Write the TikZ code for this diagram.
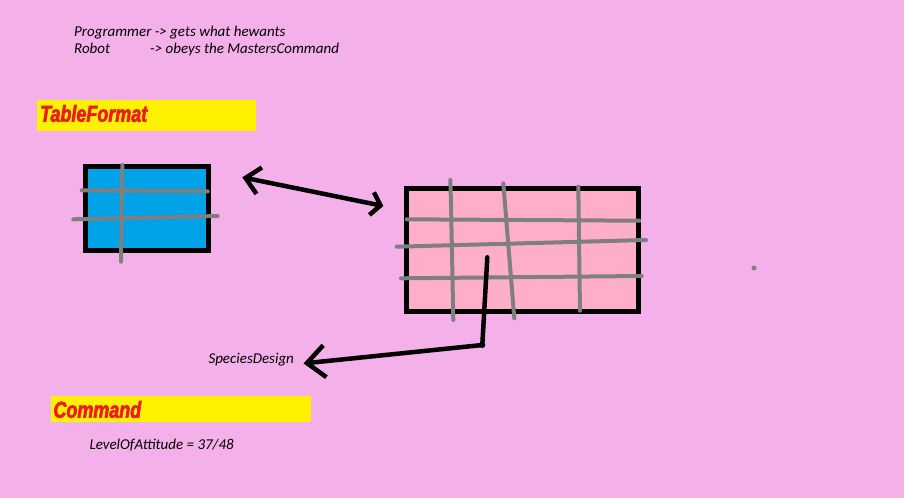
\documentclass[tikz,border=0pt]{standalone}
\usepackage{fontspec}
\setmainfont{Carlito}
\newfontfamily\bannerfont[FakeStretch=0.78, BoldItalicFeatures={FakeBold=2.5}]{Liberation Sans}
\usepackage{tikz}
\usetikzlibrary{arrows.meta}
\definecolor{sketchBg}{RGB}{244,176,232}
\definecolor{tableBlue}{RGB}{0,162,232}
\definecolor{tablePink}{RGB}{255,174,201}
\definecolor{bannerYellow}{RGB}{255,242,0}
\definecolor{bannerRed}{RGB}{237,28,36}
\definecolor{gridGray}{RGB}{127,127,127}

\begin{document}
\begin{tikzpicture}[x=1pt, y=-1pt,
		note/.style={font=\fontsize{15}{17}\selectfont\itshape, inner sep=0, anchor=base west},
		banner/.style={fill=bannerYellow, inner sep=0, anchor=north west},
		bannertext/.style={font=\bannerfont\fontsize{23}{24}\selectfont\bfseries\itshape, text=bannerRed, inner sep=0, anchor=base west},
		table/.style={draw=black, line width=5pt, inner sep=0},
		grid/.style={draw=gridGray, line width=4pt, line cap=round},
		wire/.style={draw=black, line width=4.5pt, line cap=round, line join=round}]
		\fill[sketchBg] (0,0) rectangle (904,498);
		\useasboundingbox (0,0) rectangle (904,498);
		\node[note] (prog) at (74,36.7) {Programmer -> gets what hewants};
		\node[note] (robot) at (74,53.5) {\makebox[76pt][l]{Robot}-> obeys the MastersCommand};
		\node[banner, minimum width=219, minimum height=30.7] (tfBanner) at (36.7,100) {};
		\node[bannertext] (tfText) at (40,121.7) {TableFormat};
		\node[banner, minimum width=260, minimum height=26] (cmdBanner) at (51,395.7) {};
		\node[bannertext] (cmdText) at (53.3,417.7) {Command};
		\node[note] (level) at (89.3,449) {LevelOfAttitude = 37/48};
		\node[note] (species) at (208.3,363.3) {SpeciesDesign};
		\node[table, fill=tableBlue, minimum width=122.4, minimum height=84] (small) at (147,208.5) {};
		\node[table, fill=tablePink, minimum width=231.7, minimum height=123.3] (big) at (522.3,249.9) {};
		\draw[grid] (122.3,165) -- (121,261.7);
		\draw[grid] (81.7,190.3) -- (207.7,191.3);
		\draw[grid] (73.3,219.3) -- (217.7,216);
		\draw[grid] (450.3,180) -- (451,203) -- (453.3,320);
		\draw[grid] (503.3,183.3) -- (514.3,318.3);
		\draw[grid] (578.3,186.7) -- (580,310.7);
		\draw[grid] (406.7,219.3) -- (639.3,220.7);
		\draw[grid] (396.7,246.7) -- (646,240);
		\draw[grid] (401,278.3) -- (641.7,276);
		\fill[gridGray] (754,268) circle (2.5);
		\coordinate (linkL) at (242.3,177.3);
		\coordinate (linkR) at (383.3,206);
		\coordinate (pick) at (487.3,257.3);
		\coordinate (bend) at (482.3,345);
		\draw[wire, {Straight Barb[length=14pt,width=27pt]}-{Straight Barb[length=9pt,width=23pt]}] (linkL) -- (linkR);
		\draw[wire, -{Straight Barb[length=18pt,width=32pt]}] (pick) -- (bend) -- ([xshift=9.4pt,yshift=-4pt]species.east);
		\fill (bend) circle (3);
	\end{tikzpicture}
\end{document}
